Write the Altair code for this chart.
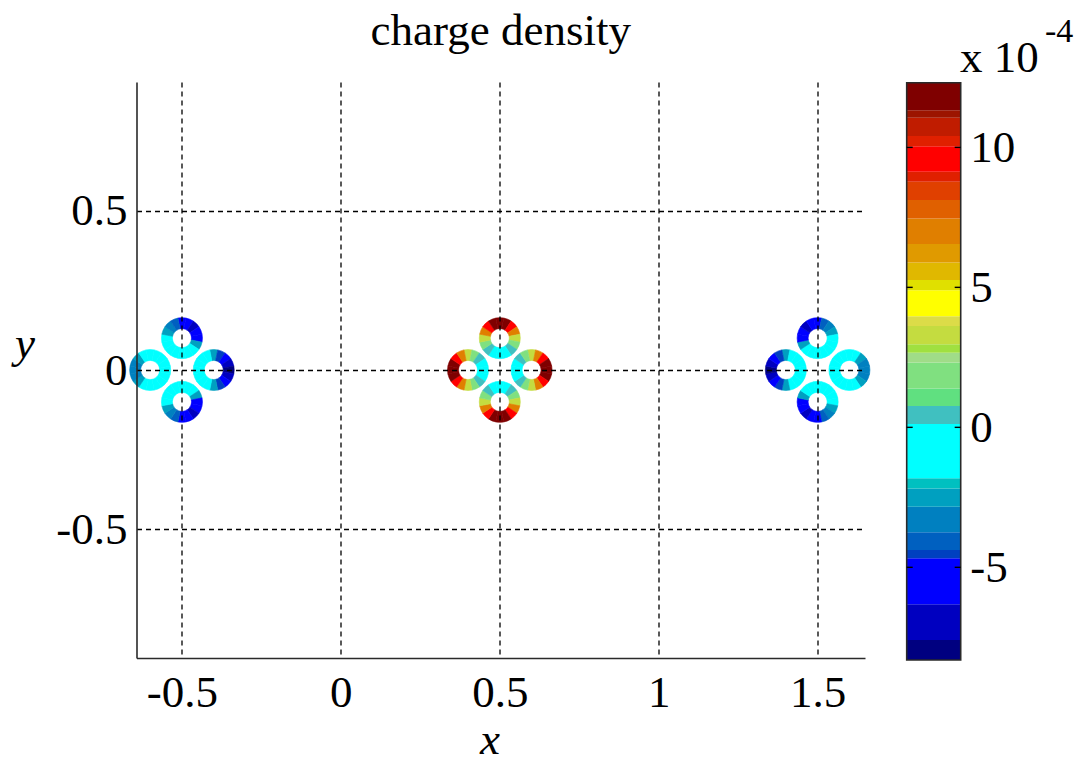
import altair as alt
import numpy as np
import pandas as pd

# ---- ring geometry -------------------------------------------------------
cluster_x = [-0.5, 0.5, 1.5]
ring_offsets = {
    "top": (0.0, 0.1),
    "right": (0.1, 0.0),
    "bottom": (0.0, -0.1),
    "left": (-0.1, 0.0),
}

# ---- charge density per ring segment (units of 1e-4) -------------------
# 16 segments per ring, clockwise from north: N, NNE, NE, ENE, E, ... , NNW
left_top = [-5.5, -6.2, -6.5, -6.0, -4.8, -2.5, -1.0, -0.6, -0.5, -0.5, -0.6, -0.9, -1.5, -2.5, -3.3, -4.3]
left_right = [-2.5, -4.5, -6.2, -7.3, -8.1, -7.3, -6.2, -4.5, -2.5, -1.3, -0.7, -0.4, -0.3, -0.4, -0.7, -1.3]
left_bottom = [-0.5, -0.6, -1.0, -2.5, -4.8, -6.0, -6.5, -6.2, -5.5, -4.3, -3.3, -2.5, -1.5, -0.9, -0.6, -0.5]
left_left = [-1.0, -0.6, -0.4, -0.3, -0.3, -0.3, -0.4, -0.6, -1.0, -1.8, -2.6, -3.2, -3.4, -3.2, -2.6, -1.8]

mid_top = [12.2, 11.6, 9.8, 7.0, 3.6, 1.6, 0.4, -0.3, -0.6, -0.3, 0.4, 1.6, 3.6, 7.0, 9.8, 11.6]
mid_right = [3.6, 7.0, 9.8, 11.6, 12.2, 11.6, 9.8, 7.0, 3.6, 1.6, 0.4, -0.3, -0.6, -0.3, 0.4, 1.6]
mid_bottom = [-0.6, -0.3, 0.4, 1.6, 3.6, 7.0, 9.8, 11.6, 12.2, 11.6, 9.8, 7.0, 3.6, 1.6, 0.4, -0.3]
mid_left = [3.6, 1.6, 0.4, -0.3, -0.6, -0.3, 0.4, 1.6, 3.6, 7.0, 9.8, 11.6, 12.2, 11.6, 9.8, 7.0]

right_top = [-5.5, -4.3, -3.3, -2.5, -1.5, -0.9, -0.6, -0.5, -0.5, -0.6, -1.0, -2.5, -4.8, -6.0, -6.5, -6.2]
right_right = [-1.0, -1.8, -2.6, -3.2, -3.4, -3.2, -2.6, -1.8, -1.0, -0.6, -0.4, -0.3, -0.3, -0.3, -0.4, -0.6]
right_bottom = [-0.5, -0.5, -0.6, -0.9, -1.5, -2.5, -3.3, -4.3, -5.5, -6.2, -6.5, -6.0, -4.8, -2.5, -1.0, -0.6]
right_left = [-2.5, -1.3, -0.7, -0.4, -0.3, -0.4, -0.7, -1.3, -2.5, -4.5, -6.2, -7.3, -8.1, -7.3, -6.2, -4.5]

rings = [
    (cluster_x[0], "top", left_top), (cluster_x[0], "right", left_right),
    (cluster_x[0], "bottom", left_bottom), (cluster_x[0], "left", left_left),
    (cluster_x[1], "top", mid_top), (cluster_x[1], "right", mid_right),
    (cluster_x[1], "bottom", mid_bottom), (cluster_x[1], "left", mid_left),
    (cluster_x[2], "top", right_top), (cluster_x[2], "right", right_right),
    (cluster_x[2], "bottom", right_bottom), (cluster_x[2], "left", right_left),
]

# ---- colormap bands (edges in units of 1e-4) ----------------------------
band_edges = [-8.31, -7.60, -6.32, -4.68, -4.38, -3.75, -2.84, -2.18, -1.82, 0.12,
              0.76, 1.39, 2.32, 2.66, 2.97, 3.62, 3.97, 4.90, 5.26, 5.89,
              6.55, 7.46, 8.12, 8.77, 9.13, 10.04, 10.41, 11.06, 11.33, 12.31]
band_colors = ["#000080", "#0000C0", "#0000FF", "#0040C0", "#0060C0", "#0080C0",
               "#00A0C0", "#00C0C0", "#00FFFF", "#40C0C0", "#60E080", "#80E080",
               "#A0DC88", "#A0E040", "#C4DC40", "#DCDC48", "#FFFF00", "#E0E000",
               "#E0B800", "#E09A00", "#E07F00", "#E06000", "#E04000", "#E02000",
               "#FF0000", "#E02000", "#C01C00", "#9C1400", "#7F0000"]
colorbar_ticks = [-5, 0, 5, 10]

# ---- tables --------------------------------------------------------------
n_seg = 16
step = 2 * np.pi / n_seg
seg_rows = []
for gx, pos, vals in rings:
    dx, dy = ring_offsets[pos]
    for k, v in enumerate(vals):
        seg_rows.append({
            "cx": gx + dx, "cy": dy,
            "t0": 2 * np.pi + (k - 0.5) * step,
            "t1": 2 * np.pi + (k + 0.5) * step,
            "q": v,
        })
segments = pd.DataFrame(seg_rows)

bands = pd.DataFrame({
    "lo": band_edges[:-1],
    "hi": band_edges[1:],
})
bands["mid"] = (bands["lo"] + bands["hi"]) / 2
frame = pd.DataFrame({"lo": [band_edges[0]], "hi": [band_edges[-1]]})
ticks = pd.DataFrame({"lo": colorbar_ticks})

SERIF = "Liberation Serif"
FS = 45

color_scale = alt.Scale(type="threshold", domain=band_edges[1:-1], range=band_colors)
cb_scale = alt.Scale(domain=[band_edges[0], band_edges[-1]], range=[578, 0.7], nice=False, zero=False)

W, H = 728.5, 576

# ---- main plot -----------------------------------------------------------
axis_common = dict(
    title=None, grid=True, gridDash=[5, 4], gridColor="black", gridOpacity=1,
    gridWidth=1.3, ticks=False, tickSize=0, domainColor="#2a2a2a", domainWidth=1.6,
    labelFont=SERIF, labelFontSize=FS, labelColor="black",
    labelExpr="'' + datum.value", zindex=1,
)

arcs = alt.Chart(segments).mark_arc(radius=20.5, radius2=9.5, strokeWidth=0.6).encode(
    x=alt.X("cx:Q", scale=alt.Scale(domain=[-0.643, 1.649], nice=False, zero=False),
            axis=alt.Axis(values=[-0.5, 0, 0.5, 1, 1.5], labelPadding=12, **axis_common)),
    y=alt.Y("cy:Q", scale=alt.Scale(domain=[-0.904, 0.904], nice=False, zero=False),
            axis=alt.Axis(values=[-0.5, 0, 0.5], labelPadding=9.5, **axis_common)),
    theta=alt.Theta("t0:Q", scale=None),
    theta2=alt.Theta2("t1:Q"),
    color=alt.Color("q:Q", scale=color_scale, legend=None),
    stroke=alt.Stroke("q:Q", scale=color_scale, legend=None),
)

def label(text, x, y, size=FS, italic=False, align="center"):
    return alt.Chart(pd.DataFrame({"t": [text]})).mark_text(
        font=SERIF, fontSize=size, color="black", align=align, baseline="alphabetic",
        fontStyle="italic" if italic else "normal",
    ).encode(text="t:N", x=alt.value(x), y=alt.value(y))

title_txt = label("charge density", 364.25, -37)
x_txt = label("x", 353.5, 672, italic=True)
y_txt = label("y", -111.5, 276, italic=True)

main = alt.layer(arcs, title_txt, x_txt, y_txt)

# ---- colorbar ------------------------------------------------------------
CB_L, CB_R = 770.2, 824.2

cb_axis = alt.Axis(orient="right", offset=95.7, values=colorbar_ticks, grid=False,
                   domain=False, ticks=False, tickSize=0, labelPadding=9, title=None,
                   labelFont=SERIF, labelFontSize=FS, labelColor="black",
                   labelExpr="'' + datum.value")
cb_y = alt.Y("lo:Q", scale=cb_scale, axis=cb_axis)

cb_bands = alt.Chart(bands).mark_rect().encode(
    x=alt.value(CB_L), x2=alt.value(CB_R),
    y=cb_y, y2="hi:Q",
    color=alt.Color("mid:Q", scale=color_scale, legend=None),
)

cb_frame = alt.Chart(frame).mark_rect(filled=False, stroke="#2a2a2a", strokeWidth=1.6).encode(
    x=alt.value(CB_L), x2=alt.value(CB_R),
    y=cb_y, y2="hi:Q",
)

cb_tick_l = alt.Chart(ticks).mark_rule(color="black", strokeWidth=1.4).encode(
    x=alt.value(CB_L), x2=alt.value(CB_L + 6), y=cb_y,
)
cb_tick_r = alt.Chart(ticks).mark_rule(color="black", strokeWidth=1.4).encode(
    x=alt.value(CB_R - 6), x2=alt.value(CB_R), y=cb_y,
)

exp_base = label("x 10", 823.5, -10, align="left")
exp_pow = label("-4", 908.5, -40, size=34, align="left")

colorbar = alt.layer(cb_bands, cb_frame, cb_tick_l, cb_tick_r, exp_base, exp_pow)

chart = (
    alt.layer(main, colorbar)
    .resolve_scale(y="independent")
    .properties(
        width=W, height=H,
        autosize=alt.AutoSizeParams(type="none"),
        padding={"left": 136.5, "top": 82, "right": 1082 - 136.5 - W, "bottom": 763 - 82 - H},
        background="white",
    )
    .configure_view(strokeWidth=0)
)

chart.save("out.html", embed_options={"renderer": "svg", "actions": False})
